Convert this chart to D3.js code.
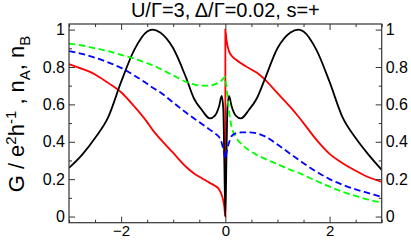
<!DOCTYPE html>
<html>
<head>
<meta charset="utf-8">
<script src="https://cdn.jsdelivr.net/npm/d3@7"></script>
<style>
  body { margin: 0; background: #fff; }
  text { font-family: "Liberation Sans", Arial, Helvetica, sans-serif; }
</style>
</head>
<body>
<svg id="chart" width="411" height="240"></svg>
<script>
// energy grid, omega / Gamma (zero is listed twice: left and right limit)
const omega = [-3, -2.75, -2.5, -2.25, -2, -1.75, -1.5, -1.4, -1.25, -1, -0.75, -0.6, -0.45, -0.3, -0.2, -0.12, -0.07, -0.04, -0.02, 0,
               0, 0.02, 0.04, 0.07, 0.12, 0.2, 0.3, 0.45, 0.6, 0.75, 1, 1.25, 1.4, 1.5, 1.75, 2, 2.25, 2.5, 2.75, 3];

// conductance G (black)
const gCond = [0.26, 0.33, 0.42, 0.53, 0.72, 0.89, 0.99, 1.0, 0.985, 0.9, 0.74, 0.63, 0.57, 0.525, 0.54, 0.59, 0.645, 0.58, 0.3, 0,
               0, 0.3, 0.58, 0.645, 0.59, 0.54, 0.525, 0.57, 0.63, 0.73, 0.9, 0.985, 1.0, 0.99, 0.89, 0.72, 0.53, 0.42, 0.33, 0.25];

// red solid
const nRed = [0.815, 0.79, 0.76, 0.715, 0.665, 0.59, 0.505, 0.465, 0.415, 0.34, 0.265, 0.23, 0.205, 0.18, 0.165, 0.145, 0.115, 0.085, 0.05, 0,
              1.0, 0.95, 0.915, 0.885, 0.86, 0.84, 0.82, 0.795, 0.77, 0.735, 0.66, 0.585, 0.535, 0.5, 0.41, 0.335, 0.285, 0.245, 0.21, 0.185];

// n_A (blue dashed)
const nA = [0.885, 0.87, 0.85, 0.825, 0.795, 0.755, 0.71, 0.69, 0.665, 0.61, 0.555, 0.525, 0.495, 0.465, 0.445, 0.425, 0.395, 0.36, 0.335, 0.31,
            0.31, 0.34, 0.365, 0.395, 0.43, 0.445, 0.45, 0.45, 0.445, 0.43, 0.385, 0.335, 0.305, 0.285, 0.24, 0.2, 0.17, 0.145, 0.125, 0.105];

// n_B (green dashed)
const nB = [0.925, 0.915, 0.9, 0.885, 0.865, 0.845, 0.82, 0.81, 0.79, 0.755, 0.72, 0.707, 0.7, 0.7, 0.708, 0.718, 0.728, 0.738, 0.744, 0.746,
            0.745, 0.7, 0.645, 0.565, 0.48, 0.425, 0.39, 0.355, 0.33, 0.31, 0.28, 0.25, 0.235, 0.222, 0.19, 0.16, 0.132, 0.11, 0.09, 0.075];

const xMajor = [-2, 0, 2];
const xMinor = [-3, -2.5, -1.5, -1, -0.5, 0.5, 1, 1.5, 2.5, 3];
const yMajor = [0, 0.2, 0.4, 0.6, 0.8, 1];
const yMinor = [0.1, 0.3, 0.5, 0.7, 0.9];

const titleText = "U/\u0393=3, \u0394/\u0393=0.02, s=+";

const series = [
  {values: nRed, color: "#ff0000", dash: null},
  {values: gCond, color: "#000000", dash: null},
  {values: nB, color: "#00ff00", dash: "6.5,3.5"},
  {values: nA, color: "#0000ff", dash: "6.5,3.5"}
];

const svg = d3.select("#chart");
const margin = {top: 24, right: 29.3, bottom: 17.3, left: 69};
const width = 411 - margin.left - margin.right;
const height = 240 - margin.top - margin.bottom;

const x = d3.scaleLinear().domain([-3, 3]).range([0, width]);
const y = d3.scaleLinear().domain([-0.033, 1.03]).range([height, 0]);

const g = svg.append("g").attr("transform", `translate(${margin.left},${margin.top})`);

// clip so curves stay inside the frame
svg.append("defs").append("clipPath").attr("id", "clip")
  .append("rect").attr("width", width).attr("height", height);

const line = d3.line()
  .x((d, i) => x(omega[i]))
  .y(d => y(d))
  .curve(d3.curveMonotoneX);

const plot = g.append("g").attr("clip-path", "url(#clip)");
series.forEach(s => {
  plot.append("path")
    .attr("d", line(s.values))
    .attr("fill", "none")
    .attr("stroke", s.color)
    .attr("stroke-width", 1.8)
    .attr("stroke-dasharray", s.dash);
});

// axes, ticks point inside
function styleAxis(sel, labels) {
  sel.select(".domain").remove();
  sel.selectAll("line").attr("stroke", "#333").attr("stroke-width", 1);
  sel.selectAll("text").attr("font-size", 16).attr("fill", "#000");
  if (!labels) sel.selectAll("text").remove();
}

g.append("g").attr("transform", `translate(0,${height})`)
  .call(d3.axisBottom(x).tickValues(xMajor).tickSize(-6).tickPadding(3).tickFormat(d3.format("d")))
  .call(s => styleAxis(s, true))
  .call(s => s.selectAll("text").attr("font-size", 15));
g.append("g").attr("transform", `translate(0,${height})`)
  .call(d3.axisBottom(x).tickValues(xMinor).tickSize(-3))
  .call(s => styleAxis(s, false));
g.append("g")
  .call(d3.axisTop(x).tickValues(xMajor).tickSize(-6))
  .call(s => styleAxis(s, false));
g.append("g")
  .call(d3.axisTop(x).tickValues(xMinor).tickSize(-3))
  .call(s => styleAxis(s, false));

const yFmt = d => d === 0 || d === 1 ? d3.format("d")(d) : d3.format(".1f")(d);
g.append("g")
  .call(d3.axisLeft(y).tickValues(yMajor).tickSize(-6).tickPadding(4).tickFormat(yFmt))
  .call(s => styleAxis(s, true));
g.append("g")
  .call(d3.axisLeft(y).tickValues(yMinor).tickSize(-3))
  .call(s => styleAxis(s, false));
g.append("g").attr("transform", `translate(${width},0)`)
  .call(d3.axisRight(y).tickValues(yMajor).tickSize(-6).tickPadding(4).tickFormat(yFmt))
  .call(s => styleAxis(s, true));
g.append("g").attr("transform", `translate(${width},0)`)
  .call(d3.axisRight(y).tickValues(yMinor).tickSize(-3))
  .call(s => styleAxis(s, false));

// frame
g.append("rect")
  .attr("width", width).attr("height", height)
  .attr("fill", "none").attr("stroke", "#333").attr("stroke-width", 1.2);

// title
svg.append("text")
  .attr("x", margin.left + width / 2)
  .attr("y", 17)
  .attr("text-anchor", "middle")
  .attr("font-size", 20)
  .text(titleText);

// y label with super/subscripts
const yl = svg.append("text")
  .attr("transform", `translate(24,${margin.top + 90}) rotate(-90)`)
  .attr("text-anchor", "middle")
  .attr("font-size", 22);
yl.append("tspan").text("G / e");
yl.append("tspan").attr("font-size", 15).attr("dy", -8).text("2");
yl.append("tspan").attr("dy", 8).text("h");
yl.append("tspan").attr("font-size", 15).attr("dy", -8).text("-1");
yl.append("tspan").attr("dy", 8).text(" , n");
yl.append("tspan").attr("font-size", 15).attr("dy", 6).text("A");
yl.append("tspan").attr("dy", -6).text(", n");
yl.append("tspan").attr("font-size", 15).attr("dy", 6).text("B");
</script>
</body>
</html>
